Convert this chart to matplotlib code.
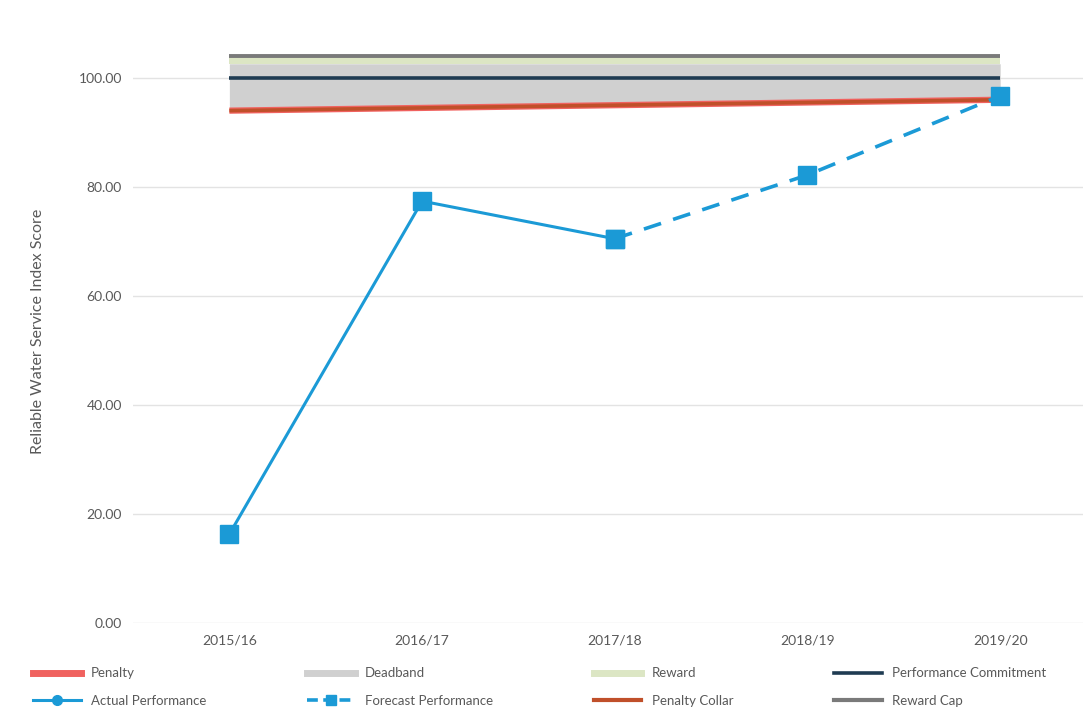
import numpy as np
import matplotlib.pyplot as plt
from matplotlib.lines import Line2D

years = ["2015/16", "2016/17", "2017/18", "2018/19", "2019/20"]
penalty_collar = [94.0, 94.5, 95.0, 95.5, 96.0]
commitment = [100.0, 100.0, 100.0, 100.0, 100.0]
reward_start = [102.6, 102.6, 102.6, 102.6, 102.6]
reward_cap = [104.0, 104.0, 104.0, 104.0, 104.0]
actual = [16.3, 77.4, 70.5]
forecast = [70.5, 82.2, 96.7]

plt.rcParams['font.family'] = ['Lato', 'DejaVu Sans']

fig = plt.figure(figsize=(10.85, 7.13), dpi=100)
ax = fig.add_axes([0.1226, 0.1262, 0.8756, 0.818])

x = np.arange(len(years))

# bands between collar, commitment and cap
ax.fill_between(x, penalty_collar, reward_start, color="#D0D0D0", lw=0, zorder=2)
ax.fill_between(x, reward_start, reward_cap, color="#DCE6C4", lw=0, zorder=2)

ax.plot(x, penalty_collar, color="#F0625F", lw=4.5, zorder=3, solid_capstyle="butt")
ax.plot(x, penalty_collar, color="#C0502A", lw=2.6, zorder=3, solid_capstyle="butt")
ax.plot(x, commitment, color="#1F3B52", lw=2.6, zorder=3, solid_capstyle="butt")
ax.plot(x, reward_cap, color="#7A7A7A", lw=2.8, zorder=3, solid_capstyle="butt")

ax.plot(x[:3], actual, color="#1B9AD6", lw=2.2, marker="s", ms=13, zorder=4)
ax.plot(x[2:], forecast, color="#1B9AD6", lw=2.6, marker="s", ms=13,
        dashes=(5, 3.5), zorder=4)

ax.set_xlim(-0.5, 4.43)
ax.set_ylim(0, 107)
ax.set_yticks(np.arange(0, 101, 20))
ax.set_yticklabels([f"{v:.2f}" for v in np.arange(0, 101, 20)])
ax.set_xticks(x)
ax.set_xticklabels(years)
ax.grid(axis="y", color="#E3E3E3", lw=1)
ax.set_axisbelow(True)
for s in ax.spines.values():
    s.set_visible(False)
ax.tick_params(length=0, labelsize=10, labelcolor="#595959", pad=8)
ax.set_ylabel("Reliable Water Service Index Score", fontsize=11.5, color="#595959", labelpad=24)

handles = [
    Line2D([], [], color="#F0625F", lw=5),
    Line2D([], [], color="#1B9AD6", lw=2.2, marker="o", ms=7),
    Line2D([], [], color="#D0D0D0", lw=5),
    Line2D([], [], color="#1B9AD6", lw=2.6, marker="s", ms=7, dashes=(3, 1.5)),
    Line2D([], [], color="#DCE6C4", lw=5),
    Line2D([], [], color="#C0502A", lw=3),
    Line2D([], [], color="#1F3B52", lw=2.6),
    Line2D([], [], color="#7A7A7A", lw=3),
]
labels = ["Penalty", "Actual Performance", "Deadband", "Forecast Performance",
          "Reward", "Penalty Collar", "Performance Commitment", "Reward Cap"]
leg = fig.legend(handles, labels, ncol=4, loc="lower left",
                 bbox_to_anchor=(0.025, 0.0, 0.945, 0.09), mode="expand",
                 frameon=False, fontsize=9.5, handlelength=3.6,
                 labelcolor="#595959", borderaxespad=0.05, labelspacing=1.2)

fig.savefig("out.png", dpi=100)
